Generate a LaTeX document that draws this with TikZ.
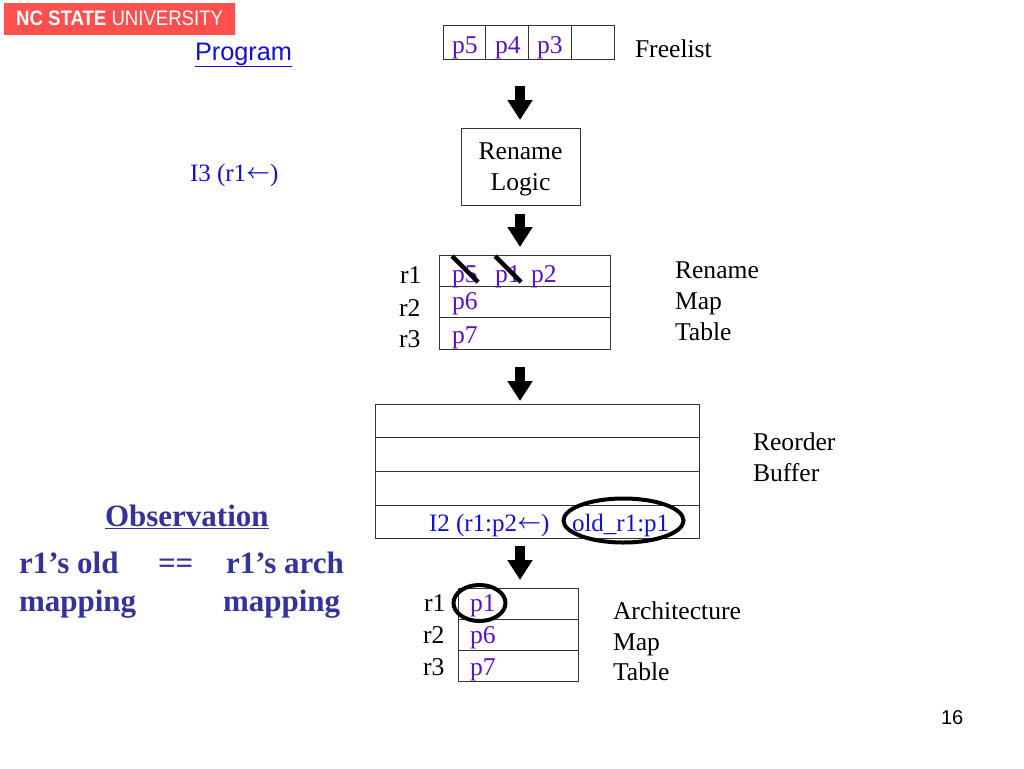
\documentclass[tikz,border=0pt]{standalone}
\usepackage{fontspec}
\setmainfont{Liberation Serif}
\setsansfont{Liberation Sans}
\newfontfamily\logofont[FakeStretch=0.885]{Liberation Sans}
\usetikzlibrary{arrows.meta,shapes.geometric}
\definecolor{purp}{HTML}{5A10C8}
\definecolor{blu}{HTML}{1010D8}
\definecolor{obs}{HTML}{33339A}
\definecolor{logo}{HTML}{FF5050}
\definecolor{boxline}{HTML}{333333}
\tikzset{
  cell/.style={draw=boxline,line width=1pt,rectangle,inner sep=0pt,outer sep=0pt,anchor=north west},
  lbl/.style={inner sep=0pt,outer sep=0pt,anchor=base west,font=\fontsize{25.6}{30}\selectfont,text=black},
  phys/.style={lbl,text=purp},
  instr/.style={lbl,text=blu,font=\fontsize{25}{30}\selectfont},
  head/.style={lbl,text=obs,font=\fontsize{31}{36}\selectfont\bfseries},
  bigarrow/.style={line width=10pt,-{Triangle[width=24pt,length=20pt]}},
  strike/.style={line width=4.5pt,black},
  ring/.style={draw=black,line width=4pt,ellipse,inner sep=0pt,outer sep=0pt,anchor=center}
}
\newcommand{\cellbox}[5]{\node[cell,minimum width=#4pt,minimum height=#5pt] (#1) at (#2,#3) {};}
\newcommand{\larr}{\raisebox{3pt}{\fontsize{20}{24}\selectfont\boldmath$\leftarrow$}}
\begin{document}
\begin{tikzpicture}[x=1pt,y=-1pt]
\useasboundingbox (0,0) rectangle (1024,768);
\fill[white] (0,0) rectangle (1024,768);
% logo
\node[fill=logo,inner sep=0pt,outer sep=0pt,anchor=north west,minimum width=231pt,minimum height=32pt] (logobar) at (4,3) {};
\node[inner sep=0pt,anchor=base west,text=white,font=\logofont\fontsize{21}{24}\selectfont] (logotext) at (16,26) {\textbf{NC STATE} UNIVERSITY};
% freelist
\cellbox{fa}{443}{25.5}{42}{34}
\cellbox{fb}{485}{25.5}{43}{34}
\cellbox{fc}{528}{25.5}{43}{34}
\cellbox{fd}{571}{25.5}{43}{34}
\node[phys] (fp5) at (452,53) {p5};
\node[phys] (fp4) at (495,53) {p4};
\node[phys] (fp3) at (537,53) {p3};
\node[lbl] (freelabel) at (635,57) {Freelist};
% rename logic
\node[cell,minimum width=119pt,minimum height=77pt] (logic) at (461,128) {};
\node[inner sep=0pt,align=center,font=\fontsize{25.6}{30.5}\selectfont] (logictext) at (520.5,169.5) {Rename\\Logic};
% rename map table
\cellbox{ra}{439}{255.5}{171}{31}
\cellbox{rb}{439}{286.5}{171}{31}
\cellbox{rc}{439}{317.5}{171}{32}
\node[lbl] (rr1) at (400,283) {r1};
\node[lbl] (rr2) at (399,316) {r2};
\node[lbl] (rr3) at (399,347) {r3};
\node[phys] (rp5) at (452,282) {p5};
\node[phys] (rp1) at (495,282) {p1};
\node[phys] (rp2) at (531,282) {p2};
\node[phys] (rp6) at (452,309) {p6};
\node[phys] (rp7) at (452,343) {p7};
\coordinate (s1a) at (452,256); \coordinate (s1b) at (478,282);
\coordinate (s2a) at (495,256); \coordinate (s2b) at (521,282);
\draw[strike] (s1a) -- (s1b);
\draw[strike] (s2a) -- (s2b);
\node[lbl] (rl1) at (675,278) {Rename};
\node[lbl] (rl2) at (675,309) {Map};
\node[lbl] (rl3) at (675,340) {Table};
% reorder buffer
\cellbox{oa}{375}{404.5}{324}{33}
\cellbox{ob}{375}{437.5}{324}{34}
\cellbox{oc}{375}{471.5}{324}{34}
\cellbox{od}{375}{505.5}{324}{33}
\node[lbl] (ol1) at (753,450) {Reorder};
\node[lbl] (ol2) at (753,481) {Buffer};
\node[instr] (i2) at (429,531) {I2 (r1:p2\larr)};
\node[instr] (old) at (572,531) {old\_r1:p1};
\node[ring,minimum width=120pt,minimum height=44pt] (oldring) at (623.5,520.5) {};
% architecture map table
\cellbox{aa}{458}{588.5}{120}{31}
\cellbox{ab}{458}{619.5}{120}{31}
\cellbox{ac}{458}{650.5}{120}{31}
\node[lbl] (ar1) at (424,611) {r1};
\node[lbl] (ar2) at (423,643) {r2};
\node[lbl] (ar3) at (423,675) {r3};
\node[phys] (ap1) at (470,611) {p1};
\node[phys] (ap6) at (470,643) {p6};
\node[phys] (ap7) at (470,675) {p7};
\node[ring,minimum width=52pt,minimum height=36pt] (p1ring) at (479.5,603) {};
\node[lbl] (al1) at (613,619) {Architecture};
\node[lbl] (al2) at (613,650) {Map};
\node[lbl] (al3) at (613,680) {Table};
% arrows
\coordinate (a1) at (520,86); \coordinate (a1e) at (520,120);
\coordinate (a2) at (520,214); \coordinate (a2e) at (520,247);
\coordinate (a3) at (520,367); \coordinate (a3e) at (520,401);
\coordinate (a4) at (520,546); \coordinate (a4e) at (520,580);
\draw[bigarrow] (a1) -- (a1e);
\draw[bigarrow] (a2) -- (a2e);
\draw[bigarrow] (a3) -- (a3e);
\draw[bigarrow] (a4) -- (a4e);
% left side
\node[lbl,text=blu,font=\sffamily\fontsize{25.3}{30}\selectfont] (prog) at (195,60) {\underline{Program}};
\node[instr] (i3) at (190,181) {I3 (r1\larr)};
\node[head] (obst) at (105,526) {\underline{Observation}};
\node[head] (o1) at (19,573) {r1’s old};
\node[head] (o2) at (158,573) {==};
\node[head] (o3) at (226,573) {r1’s arch};
\node[head] (o4) at (19,611) {mapping};
\node[head] (o5) at (223,611) {mapping};
\node[lbl,font=\sffamily\fontsize{20}{24}\selectfont] (pagenum) at (941,724) {16};
\end{tikzpicture}
\end{document}
